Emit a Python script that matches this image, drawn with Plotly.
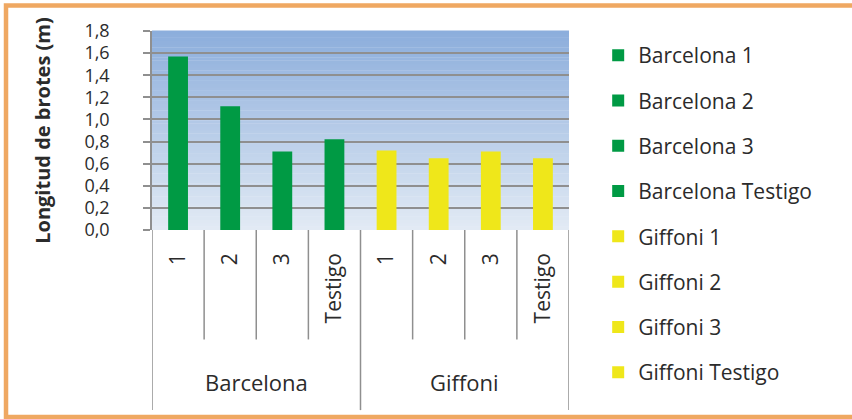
import plotly.graph_objects as go

# ---- data ----
groups = ["Barcelona", "Giffoni"]
subs = ["1", "2", "3", "Testigo"]
series_names = ["Barcelona 1", "Barcelona 2", "Barcelona 3", "Barcelona Testigo",
                "Giffoni 1", "Giffoni 2", "Giffoni 3", "Giffoni Testigo"]
values = [1.57, 1.12, 0.71, 0.82, 0.72, 0.65, 0.71, 0.65]
series_colors = ["#009A44"] * 4 + ["#EFE71A"] * 4
tick_labels = subs * 2
y_title = "Longitud de brotes (m)"

FONT = "Open Sans"
TXT = "#2b2b2b"
GRID = "#8f8f8f"

fig = go.Figure()
for i, (name, v, c) in enumerate(zip(series_names, values, series_colors)):
    fig.add_trace(go.Bar(
        x=[name], y=[v], name=name, marker=dict(color=c, line=dict(width=0)),
        width=0.38, legendgroup=f"g{i}", hoverinfo="x+y"))

shapes = []
# gradient plot background
top_rgb = (0x8C, 0xAE, 0xDC)
bot_rgb = (0xE3, 0xEB, 0xF5)
N = 60
for k in range(N):
    t = (k + 0.5) / N
    r = int(bot_rgb[0] + (top_rgb[0] - bot_rgb[0]) * t)
    g = int(bot_rgb[1] + (top_rgb[1] - bot_rgb[1]) * t)
    b = int(bot_rgb[2] + (top_rgb[2] - bot_rgb[2]) * t)
    shapes.append(dict(type="rect", xref="x domain", yref="y domain",
                       x0=0, x1=1, y0=k / N, y1=(k + 1) / N + 0.002,
                       fillcolor=f"rgb({r},{g},{b})", line=dict(width=0), layer="below"))

# category boundary lines (short) and group dividers (long)
n = len(series_names)
for i in range(n + 1):
    long_line = (i % len(subs) == 0)
    shapes.append(dict(type="line", xref="x", yref="paper",
                       x0=i - 0.5, x1=i - 0.5, y0=0, y1=-0.905 if long_line else -0.55,
                       line=dict(color=GRID, width=1.5)))

# outer orange frame
shapes.append(dict(type="rect", xref="paper", yref="paper",
                   x0=-0.3501, x1=1.70, y0=-0.9397, y1=1.128,
                   line=dict(color="#EFA862", width=4.5), fillcolor="rgba(0,0,0,0)", layer="below"))

annotations = []
for gi, gname in enumerate(groups):
    center = gi * len(subs) + (len(subs) - 1) / 2
    annotations.append(dict(x=center, y=-0.765, xref="x", yref="paper", text=gname,
                            showarrow=False, font=dict(family=FONT, size=22, color=TXT),
                            xanchor="center", yanchor="middle"))

fig.update_layout(
    width=852, height=419,
    margin=dict(l=152, r=283, t=31, b=189),
    paper_bgcolor="white", plot_bgcolor="rgba(0,0,0,0)",
    barmode="overlay",
    separators=",.",
    font=dict(family=FONT, size=18, color=TXT),
    shapes=shapes, annotations=annotations,
    showlegend=True,
    legend=dict(x=1.07, y=0.98, xanchor="left", yanchor="top",
                traceorder="grouped", tracegroupgap=15, maxheight=419,
                font=dict(family=FONT, size=21, color=TXT),
                bgcolor="rgba(0,0,0,0)"),
    xaxis=dict(categoryorder="array", categoryarray=series_names,
               tickvals=series_names, ticktext=tick_labels, tickangle=-90,
               ticks="", showgrid=False, zeroline=False, showline=False,
               ticklabelstandoff=18, range=[-0.5, n - 0.5],
               tickfont=dict(family=FONT, size=21, color=TXT)),
    yaxis=dict(range=[0, 1.8], dtick=0.2, tick0=0, tickformat=".1f",
               showgrid=True, gridcolor=GRID, gridwidth=2,
               zeroline=False, showline=True, linecolor=GRID, linewidth=1.5,
               ticks="outside", ticklen=7, tickcolor=GRID, tickwidth=1.5,
               ticklabelstandoff=30,
               tickfont=dict(family=FONT, size=18, color=TXT),
               title=dict(text=f"<b>{y_title}</b>", standoff=28,
                          font=dict(family=FONT, size=20, color=TXT))),
)

fig.write_html("out.html")
